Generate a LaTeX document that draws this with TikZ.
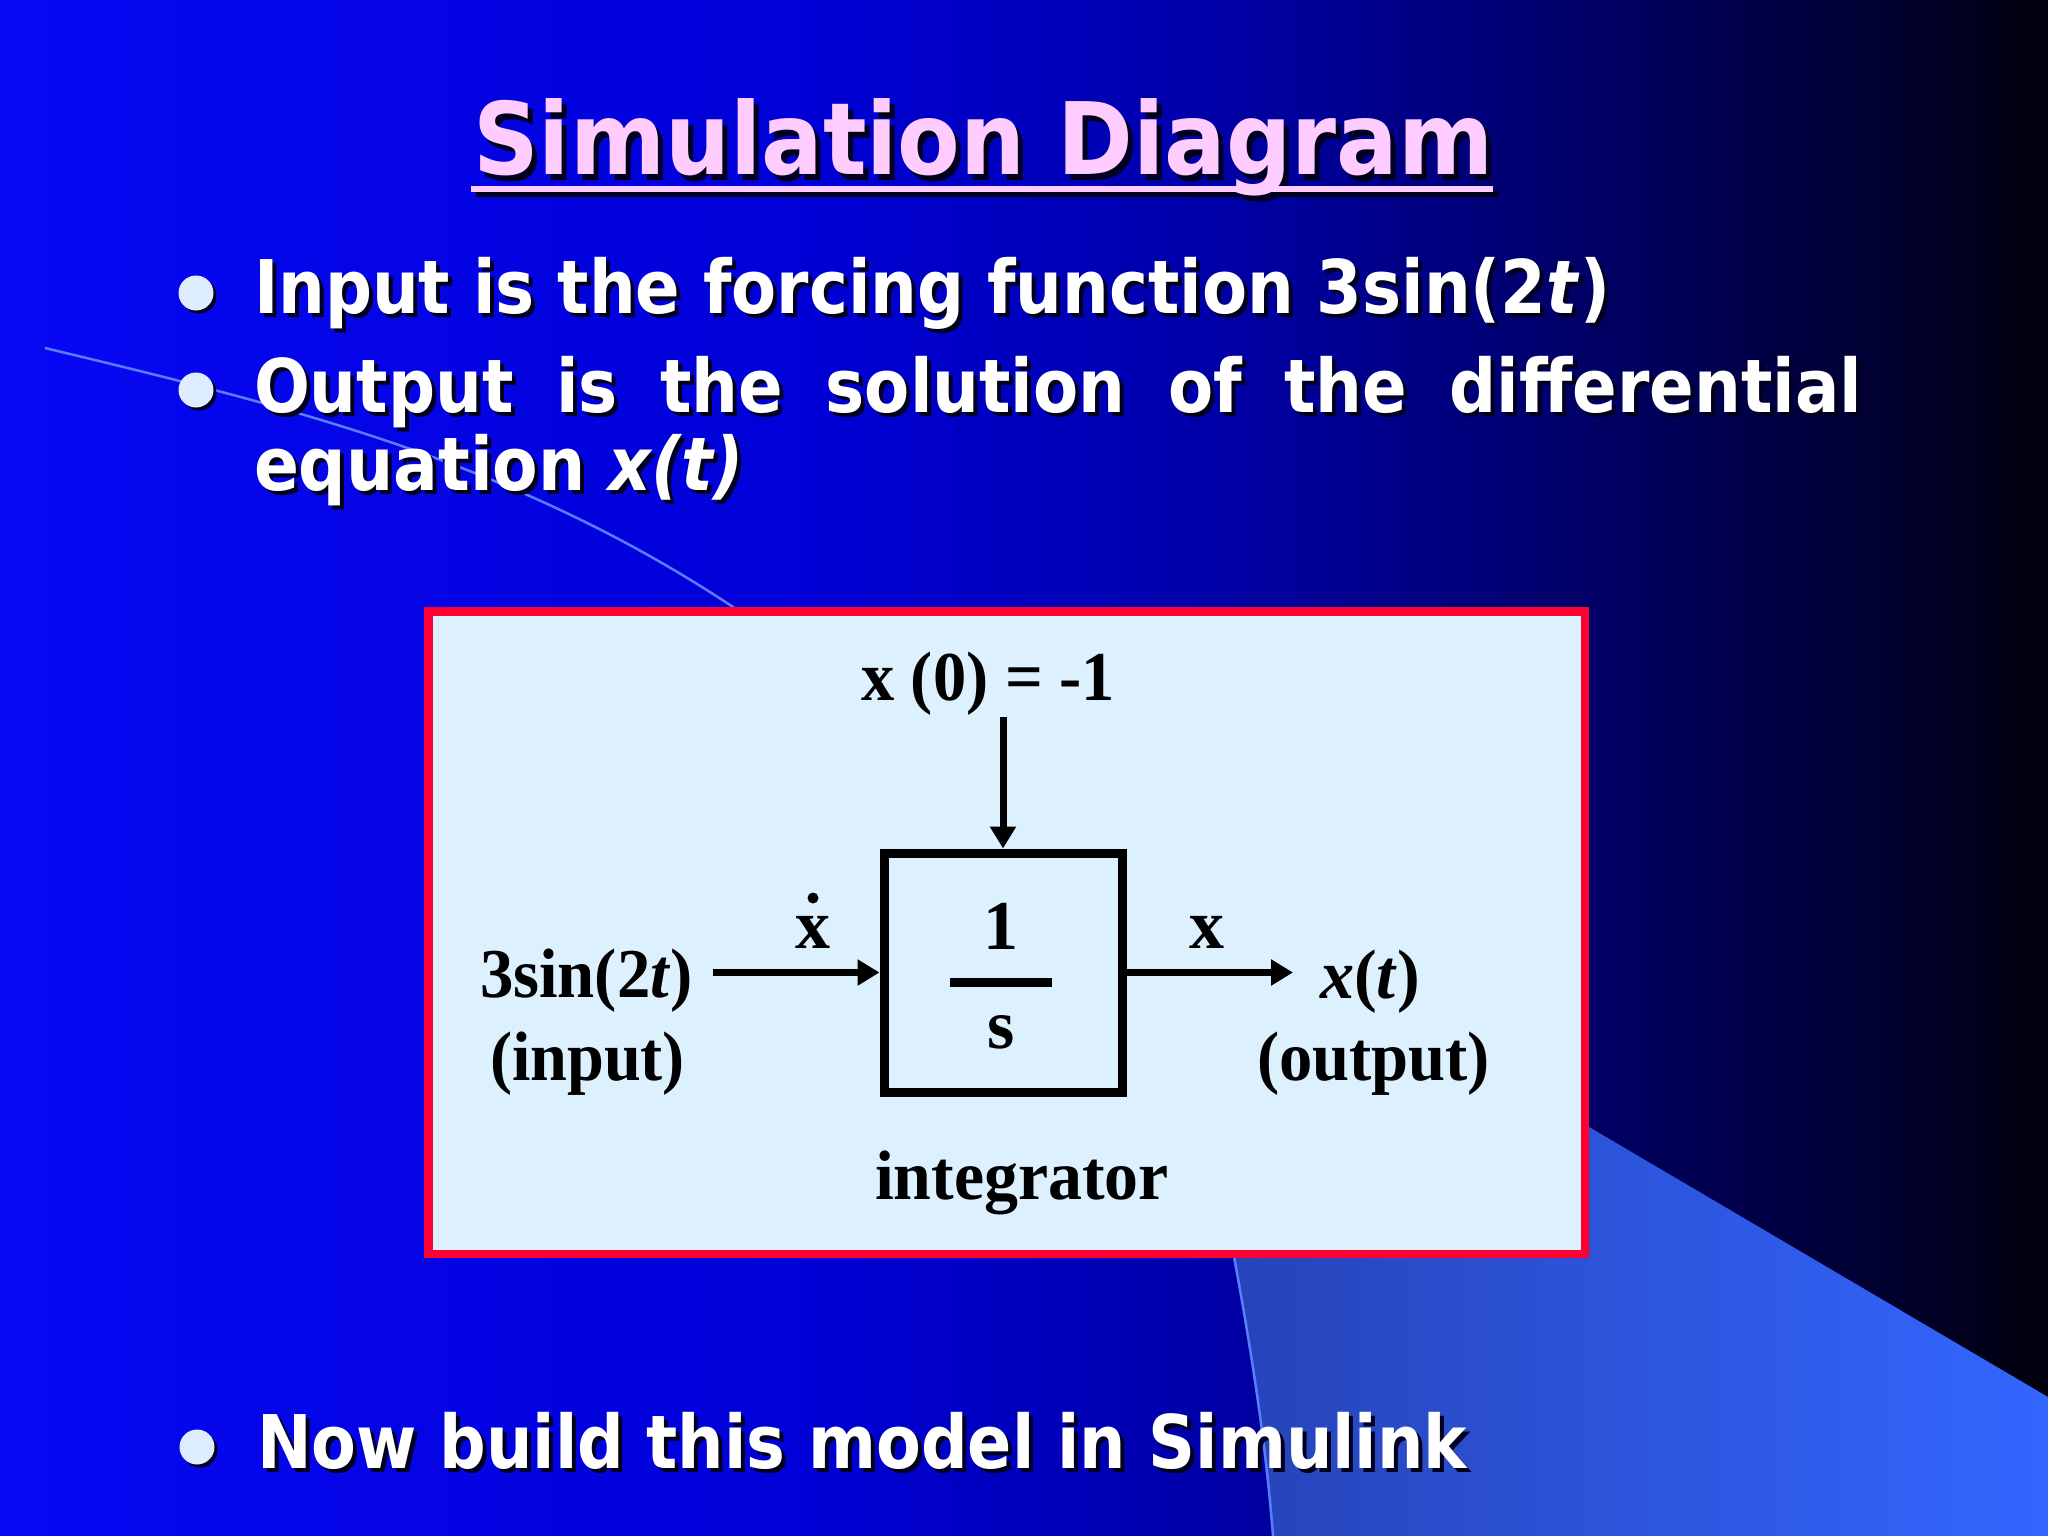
\documentclass[tikz,border=0pt]{standalone}
\usepackage{fontspec}
\usepackage{graphicx}
\setmainfont{Liberation Serif}
\newfontfamily\vfont{DejaVu Sans}
\usetikzlibrary{arrows.meta}
\definecolor{bgA}{RGB}{8,8,245}
\definecolor{bgB}{RGB}{0,0,215}
\definecolor{bgC}{RGB}{0,0,170}
\definecolor{bgD}{RGB}{0,0,100}
\definecolor{bgE}{RGB}{0,0,45}
\definecolor{bgF}{RGB}{2,0,12}
\definecolor{lightL}{RGB}{38,68,185}
\definecolor{lightR}{RGB}{51,102,255}
\definecolor{arcC}{RGB}{90,125,255}
\definecolor{pinkT}{RGB}{255,204,255}
\definecolor{bulletC}{RGB}{221,236,255}
\definecolor{shadowC}{RGB}{0,0,30}
\definecolor{boxfill}{RGB}{221,240,254}
\definecolor{boxred}{RGB}{255,0,51}
\newcommand\fitw[2]{\resizebox{#1pt}{\height}{#2}}
\newcommand\shtxt[5]{%
  \node[#2,text=shadowC] (#1s) at (#3+4,#4+4) {#5};
  \node[#2] (#1) at (#3,#4) {#5};}
\begin{document}
\begin{tikzpicture}[x=1pt,y=-1pt,
  txt/.style={inner sep=0pt, outer sep=0pt, anchor=base west},
  ttl/.style={txt, text=pinkT, font=\vfont\bfseries\fontsize{100}{110}\selectfont},
  blt/.style={txt, text=white, font=\vfont\bfseries\fontsize{74}{84}\selectfont},
  dlbl/.style={txt, text=black, font=\bfseries\fontsize{70}{80}\selectfont},
  bulletdot/.style={circle, fill=bulletC, minimum size=35pt, inner sep=0pt},
  bulletsh/.style={circle, fill=shadowC, minimum size=35pt, inner sep=0pt},
  arr/.style={line width=7pt, -{Triangle[length=22pt,width=25pt]}},
  arcline/.style={draw=arcC, line width=2.5pt}
]
\useasboundingbox (0,0) rectangle (2048,1536);
% background gradient
\shade[left color=bgA, right color=bgB] (0,0) rectangle (801,1536);
\shade[left color=bgB, right color=bgC] (800,0) rectangle (1201,1536);
\shade[left color=bgC, right color=bgD] (1200,0) rectangle (1601,1536);
\shade[left color=bgD, right color=bgE] (1600,0) rectangle (1901,1536);
\shade[left color=bgE, right color=bgF] (1900,0) rectangle (2048,1536);
% lighter region lower right
\begin{scope}
\clip (700,604) -- (2048,1397) -- (2048,1536) -- (700,1536) -- cycle;
\clip (730,605) .. controls (980,770) and (1181,968) .. (1235,1262)
      .. controls (1252,1355) and (1266,1445) .. (1273,1536)
      -- (2048,1536) -- (2048,500) -- (730,500) -- cycle;
\shade[left color=lightL, right color=lightR] (1230,500) rectangle (2048,1536);
\end{scope}
% decorative arc
\draw[arcline] (45,348) .. controls (295,408) and (513,462) .. (730,605)
      .. controls (980,770) and (1181,968) .. (1235,1262)
      .. controls (1252,1355) and (1266,1445) .. (1273,1536);
% title
\node[ttl,text=shadowC] (titles) at (478,180) {\fitw{1020}{Simulation Diagram}};
\fill[shadowC] (476,191) rectangle (1498,197);
\node[ttl] (title) at (473,175) {\fitw{1020}{Simulation Diagram}};
\fill[pinkT] (471,186) rectangle (1493,192);
% bullets
\node[bulletsh] (d1s) at (199,296) {};
\node[bulletdot] (d1) at (196,293) {};
\shtxt{l1}{blt}{254}{313}{\fitw{1356}{Input is the forcing function 3sin(2\textit{t})}}
\node[bulletsh] (d2s) at (199,393) {};
\node[bulletdot] (d2) at (196,390) {};
\shtxt{l2}{blt}{254}{412}{\scalebox{0.889}[1]{\makebox[1809pt][s]{Output is the solution of the differential}}}
\shtxt{l3}{blt}{254}{490}{\fitw{490}{equation \textit{x(t)}}}
\node[bulletsh] (d3s) at (200,1450) {};
\node[bulletdot] (d3) at (197,1447) {};
\shtxt{l4}{blt}{257}{1468}{\fitw{1210}{Now build this model in Simulink}}
% diagram frame
\node[draw=boxred, fill=boxfill, line width=8.5pt, minimum width=1156.5pt,
      minimum height=642.5pt, inner sep=0pt] (frame) at (1006.5,932.5) {};
% integrator block
\node[draw=black, line width=9pt, minimum width=238pt, minimum height=239pt,
      inner sep=0pt] (blk) at (1003,972.5) {};
\draw[line width=9pt] (950,982) -- (1052,982);
% labels
\node[dlbl] (x0) at (861,700) {\fitw{254}{x (0) = -1}};
\node[dlbl, anchor=base] (one) at (1001,949) {1};
\node[dlbl, anchor=base] (sden) at (1001,1048) {s};
\node[dlbl, anchor=base] (xd) at (813,948) {x};
\fill (813,898) circle (5.5);
\node[dlbl, anchor=base] (xo) at (1207,948) {x};
\node[dlbl] (in1) at (480,997) {\fitw{213}{3sin(2\textit{t})}};
\node[dlbl] (in2) at (490,1080) {\fitw{195}{(input)}};
\node[dlbl] (out1) at (1320,998) {\fitw{100}{\textit{x}(\textit{t})}};
\node[dlbl] (out2) at (1257,1080) {\fitw{233}{(output)}};
\node[dlbl] (integ) at (875,1199) {\fitw{294}{integrator}};
% connectors
\coordinate (vtop) at (1003,717);
\draw[arr] (vtop) -- (blk.north);
\coordinate (inS) at (713,972.5);
\draw[arr] (inS) -- (blk.west);
\coordinate (outE) at (1293,972.5);
\draw[arr] (blk.east) -- (outE);
\end{tikzpicture}
\end{document}
